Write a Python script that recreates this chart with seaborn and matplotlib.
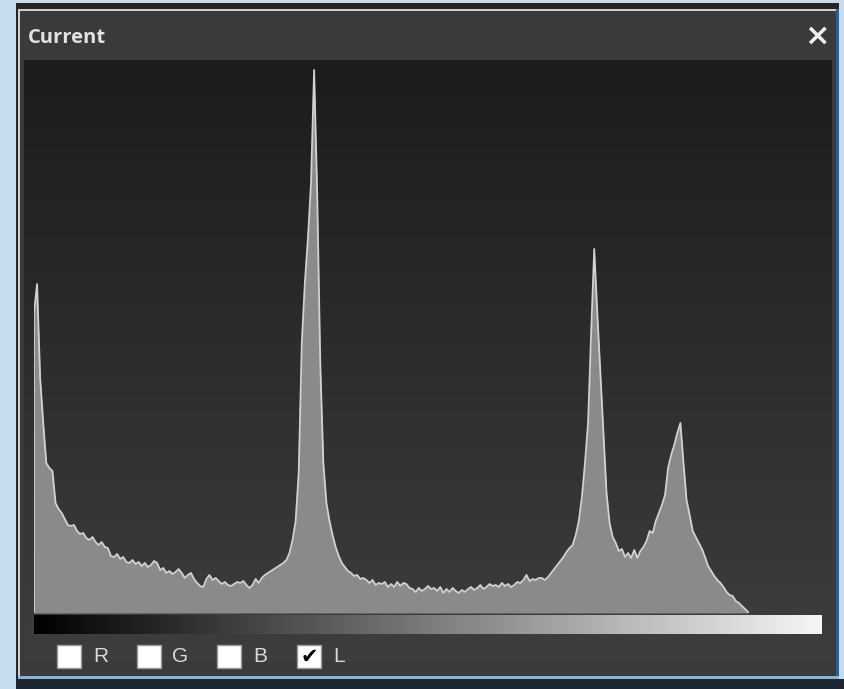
import numpy as np
import matplotlib
matplotlib.use("Agg")
import matplotlib.pyplot as plt
import seaborn as sns
from matplotlib.patches import Rectangle

# ---------------- data ----------------
title = "Current"
channels = ["R", "G", "B", "L"]
checked = [False, False, False, True]
counts = [
    300, 329, 235, 190, 150, 145, 142, 110, 104, 100,
    94, 88, 87, 88, 82, 79, 80, 75, 73, 76,
    71, 68, 71, 66, 65, 57, 56, 59, 54, 56,
    51, 50, 53, 49, 51, 47, 50, 46, 48, 52,
    50, 43, 45, 40, 42, 39, 41, 44, 40, 35,
    38, 40, 34, 30, 27, 26, 34, 38, 33, 35,
    32, 29, 31, 28, 27, 29, 31, 30, 32, 28,
    25, 28, 34, 30, 35, 38, 40, 42, 44, 46,
    48, 50, 53, 60, 73, 92, 140, 270, 330, 375,
    430, 543, 420, 250, 150, 110, 92, 78, 66, 57,
    50, 46, 42, 40, 37, 38, 34, 35, 33, 30,
    33, 28, 30, 29, 31, 26, 29, 26, 31, 27,
    30, 29, 25, 24, 21, 25, 22, 24, 27, 24,
    25, 22, 26, 20, 24, 21, 25, 22, 20, 23,
    21, 24, 26, 23, 25, 28, 24, 26, 29, 27,
    28, 26, 30, 27, 29, 26, 28, 31, 30, 33,
    38, 32, 34, 33, 35, 35, 33, 36, 40, 44,
    48, 52, 56, 61, 65, 68, 78, 92, 116, 150,
    190, 280, 364, 300, 240, 180, 120, 90, 76, 70,
    62, 64, 56, 60, 55, 63, 55, 62, 66, 72,
    82, 80, 92, 100, 108, 118, 145, 158, 168, 180,
    190, 150, 113, 98, 82, 76, 70, 64, 56, 47,
    42, 37, 33, 30, 26, 21, 18, 17, 12, 10,
    7, 4, 1,
]
bins = list(range(len(counts)))
n_levels = 256

# ---------------- figure ----------------
W, H = 844, 689
fig = plt.figure(figsize=(W / 100, H / 100), dpi=100)
fig.patch.set_facecolor("#c6dbec")


def rect(x0, y0, x1, y1, zorder=-5, **kw):
    r = Rectangle((x0 / W, 1 - y1 / H), (x1 - x0) / W, (y1 - y0) / H,
                  transform=fig.transFigure, zorder=zorder, **kw)
    fig.add_artist(r)
    return r


def axes_px(x0, y0, x1, y1):
    return fig.add_axes([x0 / W, 1 - y1 / H, (x1 - x0) / W, (y1 - y0) / H])


# window frame
rect(16, 679, 844, 689, facecolor="#1d2633", edgecolor="none")
rect(16, 3, 839, 679, facecolor="#262626", edgecolor="none")
rect(18, 9, 837, 678, facecolor="#3a3a3a", edgecolor="none")
rect(18, 9, 837, 10.5, facecolor="#cfcfcf", edgecolor="none")
rect(18, 9, 19.5, 678, facecolor="#cfcfcf", edgecolor="none")
rect(836, 9, 839, 679, facecolor="#2f5d96", edgecolor="none")
rect(18, 675.5, 839, 678.5, facecolor="#8db2d8", edgecolor="none")
# title bar
rect(20, 11, 836, 60, facecolor="#3a3a3a", edgecolor="none")

# plot panel gradient background
bg = axes_px(24, 60, 832, 661)
bg.imshow(np.linspace(0, 1, 256).reshape(-1, 1), aspect="auto",
          cmap=matplotlib.colors.LinearSegmentedColormap.from_list("bg", ["#1c1c1c", "#3e3e3e"]),
          extent=[0, 1, 1, 0])
bg.set_axis_off()

# histogram axes
ax = axes_px(34, 60, 822, 613)
ax.set_facecolor("none")
ax.fill_between(bins, counts, 0, color="#8a8a8a", linewidth=0)
sns.lineplot(x=bins, y=counts, ax=ax, color="#d2d2d2", linewidth=1.3)
ax.plot([bins[0], bins[0]], [0, counts[0]], color="#d2d2d2", linewidth=1.3)
ax.set_xlim(0, n_levels)
ax.set_ylim(0, 553)
ax.set_axis_off()

# luminance gradient bar
gb = axes_px(34, 615, 822, 634)
gb.imshow(np.linspace(0, 1, 256).reshape(1, -1), aspect="auto",
          cmap=matplotlib.colors.LinearSegmentedColormap.from_list("g", ["#000000", "#f6f6f6"]),
          extent=[0, 1, 0, 1])
gb.set_axis_off()

# title and close button
fig.text(28 / W, 1 - 38 / H, title, fontsize=14.5, fontweight="bold", family="Open Sans",
         color="#e2e2e2", va="center", ha="left")
fig.text(817 / W, 1 - 36 / H, "×", fontsize=22, fontweight="bold", color="#f0f0f0",
         va="center", ha="center", family="DejaVu Sans")

# checkboxes
box_x = [57, 137, 217, 297]
lab_x = [93, 172, 253, 333]
for bx, lx, ch, on in zip(box_x, lab_x, channels, checked):
    rect(bx, 645, bx + 24, 668, zorder=2, facecolor="#ffffff", edgecolor="#9a9a9a", linewidth=1)
    if on:
        fig.text((bx + 12) / W, 1 - 657 / H, "✔", fontsize=15, color="#000000",
                 ha="center", va="center", family="DejaVu Sans")
    fig.text(lx / W, 1 - 656 / H, ch, fontsize=15, color="#d8d8d8",
             ha="left", va="center", family="Liberation Sans")

fig.savefig("out.png", dpi=100, facecolor=fig.get_facecolor())
